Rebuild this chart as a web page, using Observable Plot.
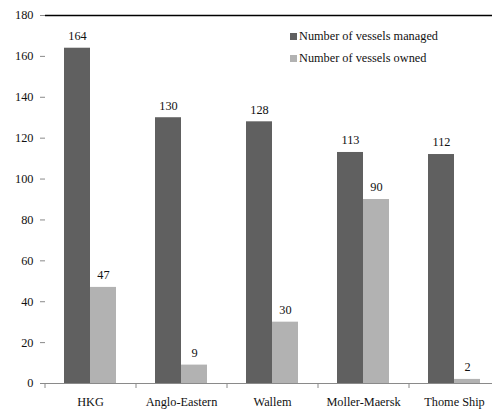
<!DOCTYPE html>
<html><head><meta charset="utf-8">
<script src="https://cdn.jsdelivr.net/npm/d3@7"></script>
<script src="https://cdn.jsdelivr.net/npm/@observablehq/plot@0.6"></script>
<style>
html,body{margin:0;padding:0;background:#fff;overflow:hidden;}
#wrap{position:relative;width:492px;height:417px;font-family:'Liberation Serif','DejaVu Serif',serif;}
.leg{position:absolute;left:290px;font-size:12.3px;color:#111;display:flex;align-items:center;white-space:nowrap;}
.sw{width:7px;height:7px;margin-right:2px;}
svg text{font-family:'Liberation Serif','DejaVu Serif',serif !important;}
</style></head>
<body><div id="wrap"></div>
<script>
const companies = ["HKG","Anglo-Eastern","Wallem","Moller-Maersk","Thome Ship"];
const managed = [164,130,128,113,112];
const owned = [47,9,30,90,2];
const seriesNames = ["Number of vessels managed","Number of vessels owned"];
const colors = ["#606060","#b2b2b2"];
const yTicks = [0,20,40,60,80,100,120,140,160,180];

const dManaged = companies.map((c,i)=>({company:c, value:managed[i]}));
const dOwned = companies.map((c,i)=>({company:c, value:owned[i]}));
const font = "'Liberation Serif','DejaVu Serif',serif";
const fs = 12.3;

const chart = Plot.plot({
  width: 492, height: 417,
  marginTop: 15, marginBottom: 34, marginLeft: 45, marginRight: 0,
  style: {fontFamily: font, fontSize: fs + "px", color: "#111", background: "#fff"},
  x: {domain: companies, range: [45, 500], paddingInner: 0.714, paddingOuter: 0.357, align: 0.5, label: null},
  y: {domain: [0,180], label: null},
  marks: [
    Plot.ruleY([180], {stroke: "#000", strokeWidth: 1.5}),
    Plot.barY(dManaged, {x: "company", y: "value", fill: colors[0], dx: -13}),
    Plot.barY(dOwned, {x: "company", y: "value", fill: colors[1], dx: 13}),
    Plot.text(dManaged, {x: "company", y: "value", text: d=>String(d.value), dx: -13, dy: -12, fill: "#111", fontSize: fs}),
    Plot.text(dOwned, {x: "company", y: "value", text: d=>String(d.value), dx: 13, dy: -12, fill: "#111", fontSize: fs}),
    Plot.ruleY([0], {stroke: "#8a8a8a"}),
    Plot.ruleX([0], {x: () => 45, stroke: "#8a8a8a"}),
    Plot.axisY({ticks: yTicks, tickSize: 5, tickPadding: 7, stroke: "#8a8a8a", fill: "#111", fontSize: fs}),
    Plot.axisX({tickSize: 0, tickPadding: 14, fill: "#111", fontSize: fs}),
    Plot.axisX({tickSize: 5, tickFormat: () => "", dx: -45.5, stroke: "#8a8a8a"})
  ]
});
const wrap = document.getElementById("wrap");
wrap.appendChild(chart);
seriesNames.forEach((n,i)=>{
  const d = document.createElement("div");
  d.className = "leg";
  d.style.top = (29 + i*22) + "px";
  d.innerHTML = `<div class="sw" style="background:${colors[i]}"></div><span>${n}</span>`;
  wrap.appendChild(d);
});
</script></body></html>
